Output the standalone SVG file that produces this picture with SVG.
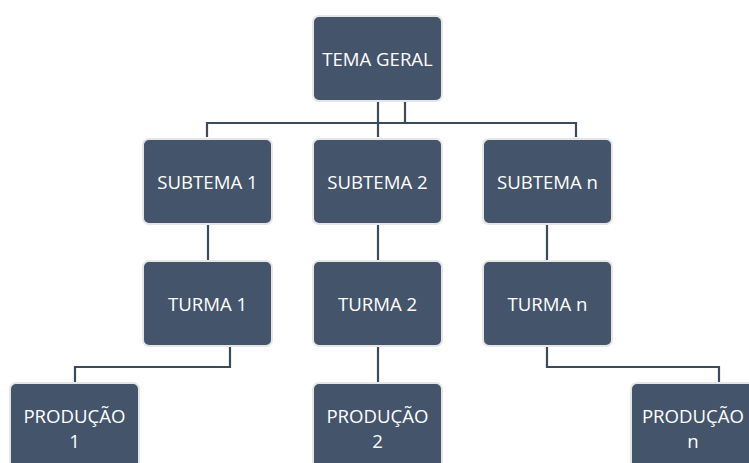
<svg xmlns="http://www.w3.org/2000/svg" width="749" height="463" viewBox="0 0 749 463">
<style>
.box{fill:#44546a;stroke:#e6e6e6;stroke-width:2}
.t{fill:#ffffff;font-family:"Open Sans","Liberation Sans",sans-serif;font-size:18.6px;text-anchor:middle;dominant-baseline:central}
.c{fill:none;stroke:#3b4a5e;stroke-width:2.2}
</style>
<rect width="749" height="463" fill="#ffffff"/>
<g id="connectors">
<path class="c" d="M378,102 V137"/>
<path class="c" d="M405,102 V123 H207 V137"/>
<path class="c" d="M405,123 H576 V137"/>
<path class="c" d="M208,225 V261"/>
<path class="c" d="M378,225 V261"/>
<path class="c" d="M547,225 V261"/>
<path class="c" d="M230,347 V367 H75 V382"/>
<path class="c" d="M378,347 V382"/>
<path class="c" d="M547,347 V367 H719 V382"/>
</g>
<g id="tema"><rect class="box" x="313" y="16" width="129" height="85" rx="6"/><text class="t" x="377.5" y="58.5">TEMA GERAL</text></g>
<g id="subtema1"><rect class="box" x="143" y="139" width="129" height="85" rx="6"/><text class="t" x="207.5" y="181.5">SUBTEMA 1</text></g>
<g id="subtema2"><rect class="box" x="313" y="139" width="129" height="85" rx="6"/><text class="t" x="377.5" y="181.5">SUBTEMA 2</text></g>
<g id="subteman"><rect class="box" x="483" y="139" width="129" height="85" rx="6"/><text class="t" x="547.5" y="181.5">SUBTEMA n</text></g>
<g id="turma1"><rect class="box" x="143" y="261" width="129" height="85" rx="6"/><text class="t" x="207.5" y="303.5">TURMA 1</text></g>
<g id="turma2"><rect class="box" x="313" y="261" width="129" height="85" rx="6"/><text class="t" x="377.5" y="303.5">TURMA 2</text></g>
<g id="turman"><rect class="box" x="483" y="261" width="129" height="85" rx="6"/><text class="t" x="547.5" y="303.5">TURMA n</text></g>
<g id="producao1"><rect class="box" x="10" y="383" width="129" height="100" rx="6"/><text class="t" x="74.5" y="415">PRODUÇÃO</text><text class="t" x="74.5" y="440">1</text></g>
<g id="producao2"><rect class="box" x="313" y="383" width="129" height="100" rx="6"/><text class="t" x="377.5" y="415">PRODUÇÃO</text><text class="t" x="377.5" y="440">2</text></g>
<g id="producaon"><rect class="box" x="631" y="383" width="129" height="100" rx="6"/><text class="t" x="693" y="415">PRODUÇÃO</text><text class="t" x="693" y="440">n</text></g>
</svg>
